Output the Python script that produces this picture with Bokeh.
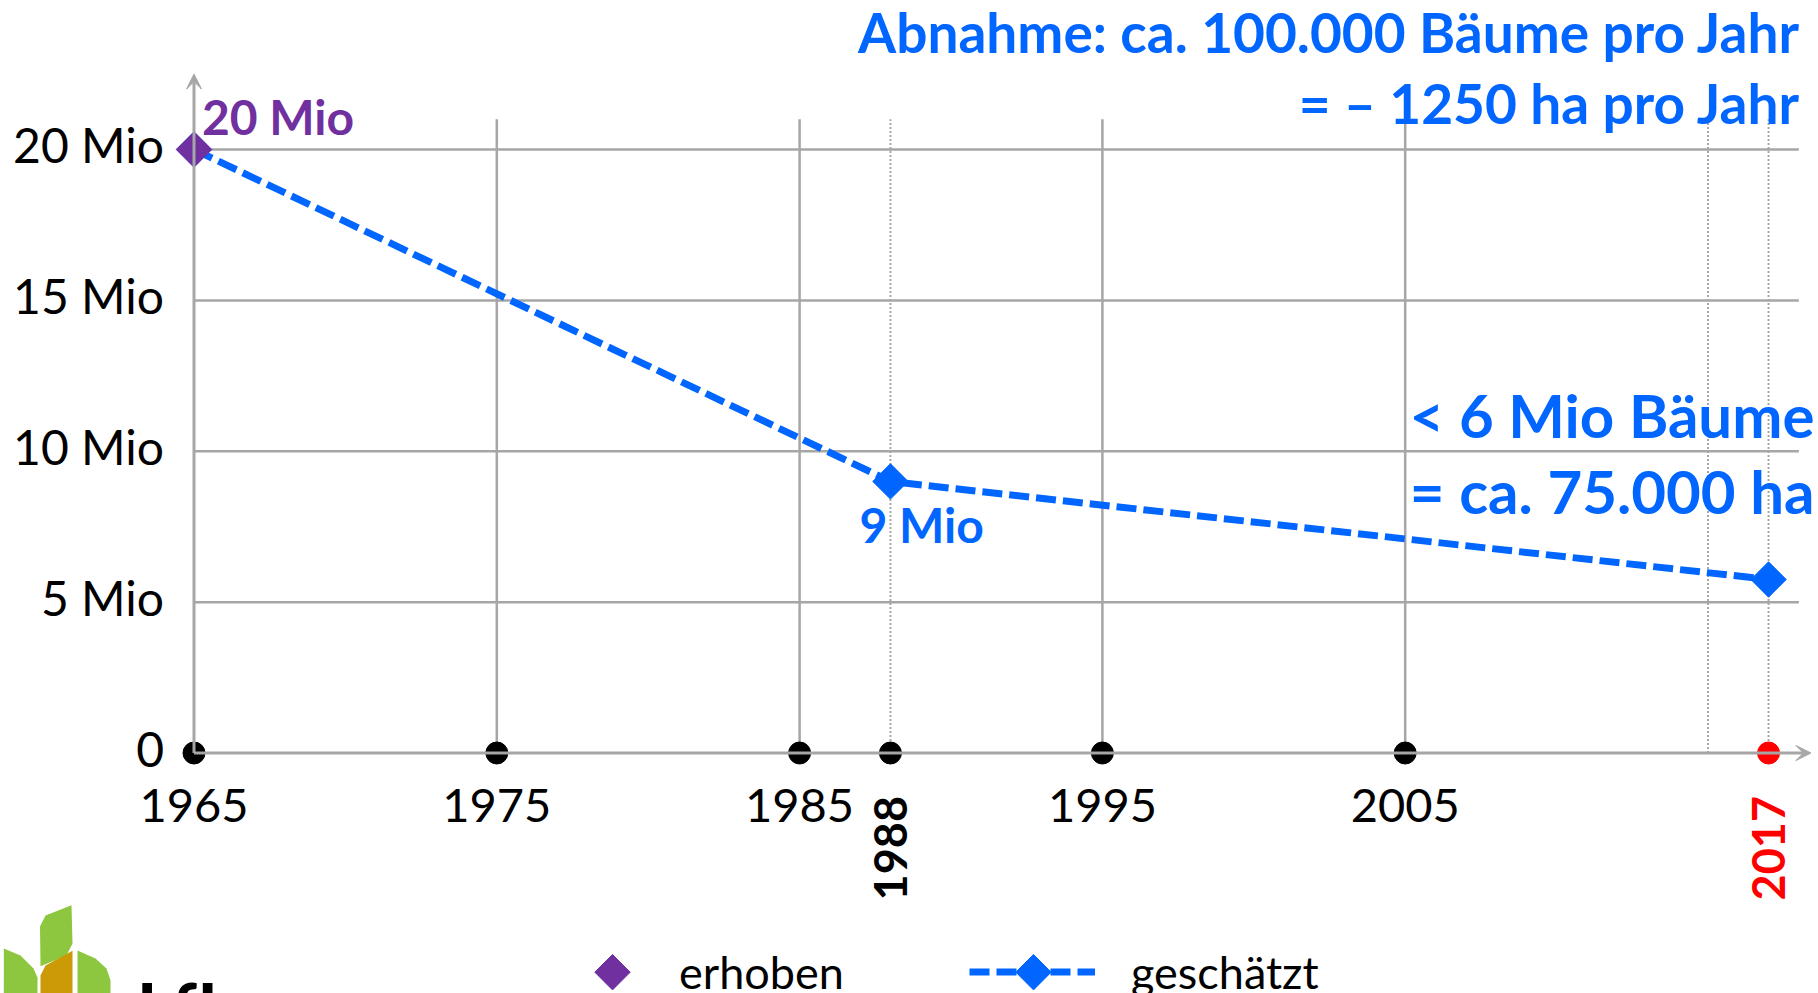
import math
from bokeh.plotting import figure
from bokeh.models import (ColumnDataSource, LinearAxis, FixedTicker, Arrow, VeeHead,
                          Legend, LegendItem, Label, Range1d)
from bokeh.core.properties import value
from bokeh.embed import file_html
from bokeh.resources import INLINE

# ---------------- data ----------------
years_erhoben = [1965]
trees_erhoben = [20]                      # Mio trees (surveyed)
years_geschaetzt = [1965, 1988, 2017]
trees_geschaetzt = [20, 9, 5.75]          # Mio trees (estimated)
axis_dot_years = [1965, 1975, 1985, 1988, 1995, 2005]
current_year = [2017]
solid_grid_years = [1975, 1985, 1995, 2005]
dotted_grid_years = [1988, 2015, 2017]
y_ticks = [0, 5, 10, 15, 20]
y_tick_labels = ["0", "5 Mio", "10 Mio", "15 Mio", "20 Mio"]
x_ticks = [1965, 1975, 1985, 1995, 2005]
highlight_years = [1988, 2017]
highlight_labels = ["1988", "2017"]
point_labels = ["20 Mio", "9 Mio"]
note_right = ["< 6 Mio Bäume", "= ca. 75.000 ha"]
note_top = ["Abnahme: ca. 100.000 Bäume pro Jahr", "= \u2013 1250 ha pro Jahr"]
legend_labels = ["erhoben", "geschätzt"]

# ---------------- style / layout ----------------
FONT = "Lato"
BLUE = "#0066FF"
PURPLE = "#7030A0"
RED = "#FF0000"
GRAY = "#A6A6A6"
GREEN = "#8DC63F"
GOLD = "#CC9A06"

W, H = 1818, 993
PX_YEAR = 30.28
PX_MIO = 30.175
X1965 = 193.5          # page px of 1965
Y0 = 752.5             # page px of 0
BASE_FIX = 0.375       # alphabetic-baseline correction (fraction of font size)

x_start = 1965 - X1965 / PX_YEAR
x_end = x_start + W / PX_YEAR
y_end = Y0 / PX_MIO
y_start = y_end - H / PX_MIO


def dx(px):  # px from left -> year
    return x_start + px / PX_YEAR


def dy(py):  # px from top -> value
    return y_end - py / PX_MIO


p = figure(width=W, height=H, x_range=Range1d(x_start, x_end), y_range=Range1d(y_start, y_end),
           output_backend="svg", toolbar_location=None, x_axis_location=None, y_axis_location=None,
           min_border=0, outline_line_color=None, background_fill_color="white")
for g in p.grid:
    g.visible = False

# range used only to lift the y tick labels a little (text centring of the font)
LABEL_LIFT = 5 / PX_MIO
p.extra_y_ranges = {"ylabels": Range1d(y_start - LABEL_LIFT, y_end - LABEL_LIFT)}

GRID_TOP = 21.0
GRID_RIGHT = 2018.0
AXIS_RIGHT = 2018.4
AXIS_TOP = 22.5
MARK = 25

# horizontal grid lines
p.segment(x0=[1965] * 4, y0=y_ticks[1:], x1=[GRID_RIGHT] * 4, y1=y_ticks[1:],
          line_color=GRAY, line_width=2.5)
# vertical solid grid lines
p.segment(x0=solid_grid_years, y0=[0] * len(solid_grid_years), x1=solid_grid_years,
          y1=[GRID_TOP] * len(solid_grid_years), line_color=GRAY, line_width=2.5)
# vertical dotted lines
p.segment(x0=dotted_grid_years, y0=[0] * len(dotted_grid_years), x1=dotted_grid_years,
          y1=[GRID_TOP] * len(dotted_grid_years), line_color=GRAY, line_width=2, line_dash="2 2")

# axis lines with arrows
p.add_layout(Arrow(x_start=1965, y_start=0, x_end=AXIS_RIGHT, y_end=0, line_color=GRAY, line_width=3,
                   end=VeeHead(size=15, fill_color=GRAY, line_color=GRAY)))
p.add_layout(Arrow(x_start=1965, y_start=0, x_end=1965, y_end=AXIS_TOP, line_color=GRAY, line_width=3,
                   end=VeeHead(size=15, fill_color=GRAY, line_color=GRAY)))

# series
line_r = p.line(years_geschaetzt, trees_geschaetzt, line_color=BLUE, line_width=7, line_dash="20 7")
blue_r = p.scatter(years_geschaetzt, trees_geschaetzt, marker="square", angle=math.pi / 4, size=MARK,
                   fill_color=BLUE, line_color=BLUE)
purple_r = p.scatter(years_erhoben, trees_erhoben, marker="square", angle=math.pi / 4, size=MARK,
                     fill_color=PURPLE, line_color=PURPLE)

# dots on x axis
p.scatter(axis_dot_years, [0] * len(axis_dot_years), marker="circle", size=22,
          fill_color="black", line_color="black")
p.scatter(current_year, [0], marker="circle", size=22, fill_color=RED, line_color=RED)

# axes (fixed inside the plot)
common = dict(axis_line_color=None, major_tick_line_color=None, minor_tick_line_color=None,
              major_tick_in=0, major_tick_out=0, minor_tick_in=0, minor_tick_out=0,
              major_label_text_font=FONT, major_label_text_color="black")
xaxis = LinearAxis(fixed_location=0, ticker=FixedTicker(ticks=x_ticks, minor_ticks=[]),
                   major_label_standoff=36, major_label_text_font_size="47px", **common)
p.add_layout(xaxis, "below")
yaxis = LinearAxis(fixed_location=1965, y_range_name="ylabels",
                   ticker=FixedTicker(ticks=y_ticks, minor_ticks=[]),
                   major_label_overrides={t: s for t, s in zip(y_ticks, y_tick_labels)},
                   major_label_standoff=30, major_label_text_font_size="48px", **common)
p.add_layout(yaxis, "left")

# point labels
PT_SIZE = 48
pl_src = ColumnDataSource(dict(x=[years_erhoben[0], years_geschaetzt[1]],
                               y=[trees_erhoben[0], trees_geschaetzt[1]],
                               text=point_labels, color=[PURPLE, BLUE],
                               xo=[8, -31], yo=[-15 - BASE_FIX * PT_SIZE, 61 - BASE_FIX * PT_SIZE]))
p.text(x="x", y="y", text="text", text_color="color", x_offset="xo", y_offset="yo", source=pl_src,
       text_font=value(FONT), text_font_style="bold", text_font_size=f"{PT_SIZE}px",
       text_align="left", text_baseline="alphabetic")

# rotated highlighted years
hl_src = ColumnDataSource(dict(x=highlight_years, y=[0, 0], text=highlight_labels, color=["black", RED]))
p.text(x="x", y="y", text="text", text_color="color", source=hl_src, angle=math.pi / 2, y_offset=43,
       text_font=value(FONT), text_font_style="bold", text_font_size="45px",
       text_align="right", text_baseline="middle")

# notes
for txt, (sx, sy), size in [(note_right[0], (1814, 436.7), 60), (note_right[1], (1814, 513), 60),
                            (note_top[0], (1800, 51.7), 55), (note_top[1], (1800, 122.7), 55)]:
    p.add_layout(Label(x=sx, y=H - (sy - BASE_FIX * size), x_units="screen", y_units="screen", text=txt,
                       text_font=FONT, text_font_style="bold", text_font_size=f"{size}px",
                       text_color=BLUE, text_align="right", text_baseline="alphabetic"))

# logo (LfL)
LOGO_LEAVES = [
    (GREEN, [(40, 965.7), (39.5, 926), (45, 915), (71, 904.7), (72, 943), (66, 955)]),
    (GREEN, [(3.3, 948), (20, 955), (33, 968), (37, 977), (37, 1000), (3.3, 1000)]),
    (GOLD, [(40, 975), (45, 965), (72, 950.3), (72, 1000), (40, 1000)]),
    (GREEN, [(77, 950), (95, 958), (106, 968), (110, 980), (110, 1000), (77, 1000)]),
]
p.patches(xs=[[dx(a) for a, b in pts] for c, pts in LOGO_LEAVES],
          ys=[[dy(b) for a, b in pts] for c, pts in LOGO_LEAVES],
          fill_color=[c for c, pts in LOGO_LEAVES], line_color=None)
LOGO_SIZE = 72
p.add_layout(Label(x=136, y=H - (1034 - BASE_FIX * LOGO_SIZE), x_units="screen", y_units="screen",
                   text="LfL", text_font=FONT, text_font_style="bold", text_font_size=f"{LOGO_SIZE}px",
                   text_color="black", text_align="left", text_baseline="alphabetic"))

# legends (diamond glyphs overlaid, since legend markers are drawn unrotated)
LEG_Y = 971.7
ghost = p.scatter(years_erhoben, trees_erhoben, marker="square", size=0, fill_alpha=0, line_alpha=0)
leg_common = dict(orientation="horizontal", glyph_height=61, padding=0, margin=0, spacing=0,
                  border_line_color=None, background_fill_alpha=0, label_text_font=FONT,
                  label_text_font_size="45px", label_text_color="black")
leg1 = Legend(items=[LegendItem(label=legend_labels[0], renderers=[ghost])],
              location=(577, H - (LEG_Y + 30.5)), glyph_width=70, label_standoff=32, **leg_common)
leg2 = Legend(items=[LegendItem(label=legend_labels[1], renderers=[line_r])],
              location=(969, H - (LEG_Y + 30.5)), glyph_width=126, label_standoff=36, **leg_common)
p.add_layout(leg1)
p.add_layout(leg2)
p.scatter([dx(612), dx(1033)], [dy(LEG_Y), dy(LEG_Y)], marker="square", angle=math.pi / 4, size=MARK,
          fill_color=[PURPLE, BLUE], line_color=[PURPLE, BLUE], level="overlay")

open("out.html", "w").write(file_html(p, INLINE))
